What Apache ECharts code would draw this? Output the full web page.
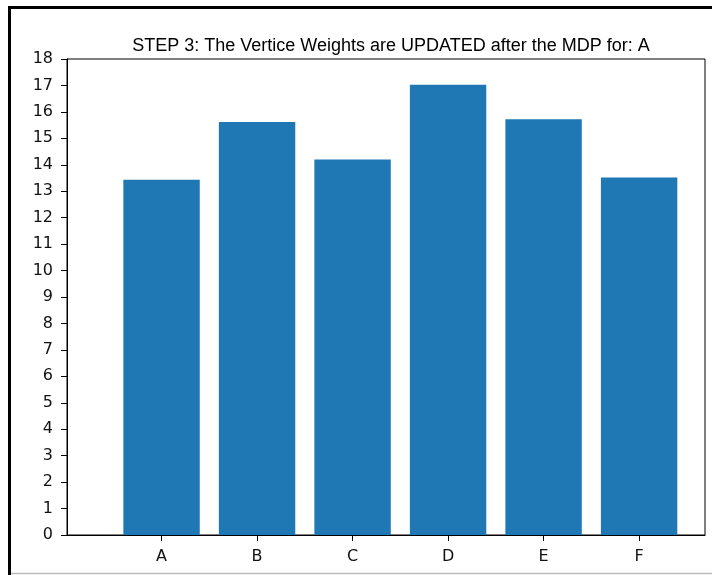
<!DOCTYPE html>
<html>
<head>
<meta charset="utf-8">
<style>
  html, body { margin: 0; padding: 0; background: #fff; }
  #chart { width: 712px; height: 575px; }
</style>
<script src="https://cdn.jsdelivr.net/npm/echarts@6/dist/echarts.min.js"></script>
</head>
<body>
<div id="chart"></div>
<script>
// Vertex names and their updated weights
const categories = ['A', 'B', 'C', 'D', 'E', 'F'];
const weights = [13.43, 15.62, 14.2, 17.03, 15.72, 13.52];
const yTicks = [0, 18, 1]; // min, max, step
const titleText = 'STEP 3: The Vertice Weights are UPDATED after the MDP for: A';

const barColor = '#1f77b4';
const positions = categories.map((_, i) => i);
const seriesData = weights.map((w, i) => [i, w]);

const chart = echarts.init(document.getElementById('chart'), null, { renderer: 'canvas' });

chart.setOption({
  animation: false,
  backgroundColor: '#fff',
  graphic: [
    // page frame: heavy left/top edge, light bottom edge
    { type: 'line', shape: { x1: 9.5, y1: 7, x2: 9.5, y2: 575 }, style: { stroke: '#000', lineWidth: 3 }, silent: true },
    { type: 'line', shape: { x1: 8, y1: 7.5, x2: 712, y2: 7.5 }, style: { stroke: '#000', lineWidth: 3 }, silent: true },
    { type: 'line', shape: { x1: 11, y1: 573.5, x2: 712, y2: 573.5 }, style: { stroke: '#bbb', lineWidth: 1.5 }, silent: true }
  ],
  title: {
    text: titleText,
    left: 386,
    textAlign: 'center',
    top: 32,
    textStyle: { fontFamily: 'Liberation Sans', fontSize: 18, fontWeight: 'normal', color: '#000' }
  },
  grid: {
    left: 67, right: 7, top: 59, bottom: 40,
    show: true, borderColor: '#000', borderWidth: 1, backgroundColor: 'transparent'
  },
  xAxis: {
    type: 'value',
    min: -0.99,
    max: 5.69,
    splitLine: { show: false },
    axisLine: { show: true, onZero: false, lineStyle: { color: '#000', width: 1 } },
    axisTick: { show: true, inside: false, length: 6, lineStyle: { color: '#000' }, customValues: positions },
    axisLabel: {
      customValues: positions,
      formatter: v => categories[Math.round(v)] || '',
      fontFamily: 'DejaVu Sans', fontSize: 16, color: '#111', margin: 14
    }
  },
  yAxis: {
    type: 'value',
    min: yTicks[0],
    max: yTicks[1],
    interval: yTicks[2],
    splitLine: { show: false },
    axisLine: { show: true, onZero: false, lineStyle: { color: '#000', width: 1 } },
    axisTick: { show: true, inside: false, length: 6, lineStyle: { color: '#000' } },
    axisLabel: { fontFamily: 'DejaVu Sans', fontSize: 16, color: '#111', margin: 14 }
  },
  series: [{
    type: 'custom',
    data: seriesData,
    encode: { x: 0, y: 1 },
    renderItem: function (params, api) {
      const x = api.value(0);
      const v = api.value(1);
      const p0 = api.coord([x - 0.4, v]);
      const p1 = api.coord([x + 0.4, 0]);
      return {
        type: 'rect',
        shape: { x: p0[0], y: p0[1], width: p1[0] - p0[0], height: p1[1] - p0[1] },
        style: { fill: barColor }
      };
    }
  }]
});
</script>
</body>
</html>
